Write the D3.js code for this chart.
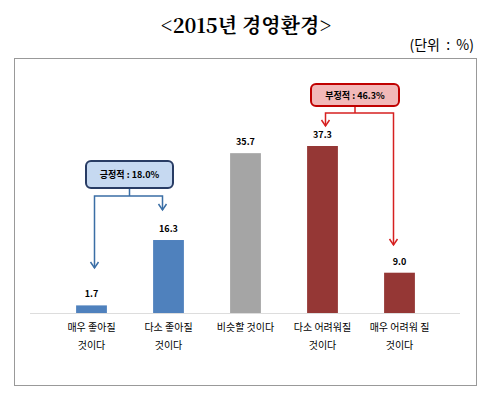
<!DOCTYPE html>
<html><head><meta charset="utf-8">
<script src="https://cdn.jsdelivr.net/npm/d3@7"></script>
<style>body{margin:0;background:#fff}</style></head>
<body><div id="canvas"></div>
<script>
const categories = ['매우 좋아질|것이다', '다소 좋아질|것이다', '비슷할 것이다', '다소 어려워질|것이다', '매우 어려워 질|것이다'];
const values = [1.7, 16.3, 35.7, 37.3, 9.0];
const barColors = ['#4f81bd', '#4f81bd', '#a5a5a5', '#953735', '#953735'];
const callouts = [
	{ label: '긍정적 : 18.0%', from: 0, to: 1, stroke: '#3a6ea5', fill: '#c6d9f1', box: 'rgb(40,60,100)' },
	{ label: '부정적 : 46.3%', from: 3, to: 4, stroke: '#d62020', fill: '#f2b8b8', box: '#c00000' },
];

const width = 492, height = 402;
const svg = d3.select('#canvas').append('svg').attr('width', width).attr('height', height);
const font = "'Noto Sans CJK KR', sans-serif";

svg.append('text').attr('x', 246).attr('y', 33).attr('text-anchor', 'middle')
	.attr('font-family', "'Noto Serif CJK KR', 'DejaVu Serif', serif").attr('font-weight', 'bold')
	.attr('font-size', 20).text('<2015년 경영환경>');
svg.append('text').attr('x', 474).attr('y', 50).attr('text-anchor', 'end')
	.attr('font-family', font).attr('font-size', 14).attr('xml:space', 'preserve').text('(단위  :  %)');
svg.append('rect').attr('x', 14.5).attr('y', 58.5).attr('width', 462).attr('height', 327)
	.attr('fill', 'none').attr('stroke', '#999');

const base = 313;
const x = d3.scaleBand().domain(d3.range(categories.length)).range([53, 438]).paddingInner(0.6).paddingOuter(0.3);
const y = d3.scaleLinear().domain([0, 37.3]).range([base, 146]);
const cx = i => x(i) + x.bandwidth() / 2;

svg.selectAll('.bar').data(values).join('rect').attr('class', 'bar')
	.attr('x', (d, i) => x(i)).attr('width', x.bandwidth())
	.attr('y', d => y(d)).attr('height', d => base - y(d))
	.attr('fill', (d, i) => barColors[i]);
svg.selectAll('.val').data(values).join('text').attr('class', 'val')
	.attr('x', (d, i) => cx(i)).attr('y', d => y(d) - 8).attr('text-anchor', 'middle')
	.attr('font-family', font).attr('font-size', 9).attr('font-weight', 'bold')
	.text(d => d.toFixed(1));

svg.append('line').attr('x1', 30).attr('x2', 460).attr('y1', base + 0.5).attr('y2', base + 0.5).attr('stroke', '#ddd');

categories.forEach((c, i) => {
	const t = svg.append('text').attr('x', cx(i)).attr('y', 331).attr('text-anchor', 'middle')
		.attr('font-family', font).attr('font-size', 10);
	c.split('|').forEach((line, j) => t.append('tspan').attr('x', cx(i)).attr('dy', j ? 18 : 0).text(line));
});

const boxes = [
	{ x: 86, y: 161, w: 87, h: 27, hy: 196, tips: [268, 210] },
	{ x: 311, y: 84, w: 88, h: 22, hy: 113, tips: [126, 245] },
];
callouts.forEach((c, k) => {
	const b = boxes[k];
	const xl = cx(c.from) + 3, xr = cx(c.to) - 6;
	const mid = b.x + b.w / 2;
	const g = svg.append('g').attr('stroke', c.stroke).attr('stroke-width', 1.5).attr('fill', 'none');
	g.append('path').attr('d', `M${mid},${b.y + b.h}V${b.hy}M${xl},${b.tips[0]}V${b.hy}H${xr}V${b.tips[1]}`);
	[[xl, b.tips[0]], [xr, b.tips[1]]].forEach(([px, py]) =>
		g.append('path').attr('d', `M${px - 4},${py - 6}L${px},${py}L${px + 4},${py - 6}`));
	svg.append('rect').attr('x', b.x).attr('y', b.y).attr('width', b.w).attr('height', b.h).attr('rx', 5)
		.attr('fill', c.fill).attr('stroke', c.box).attr('stroke-width', 2);
	svg.append('text').attr('x', mid).attr('y', b.y + b.h / 2 + 3.5).attr('text-anchor', 'middle')
		.attr('font-family', font).attr('font-size', 9).attr('font-weight', 'bold').text(c.label);
});
</script></body></html>
